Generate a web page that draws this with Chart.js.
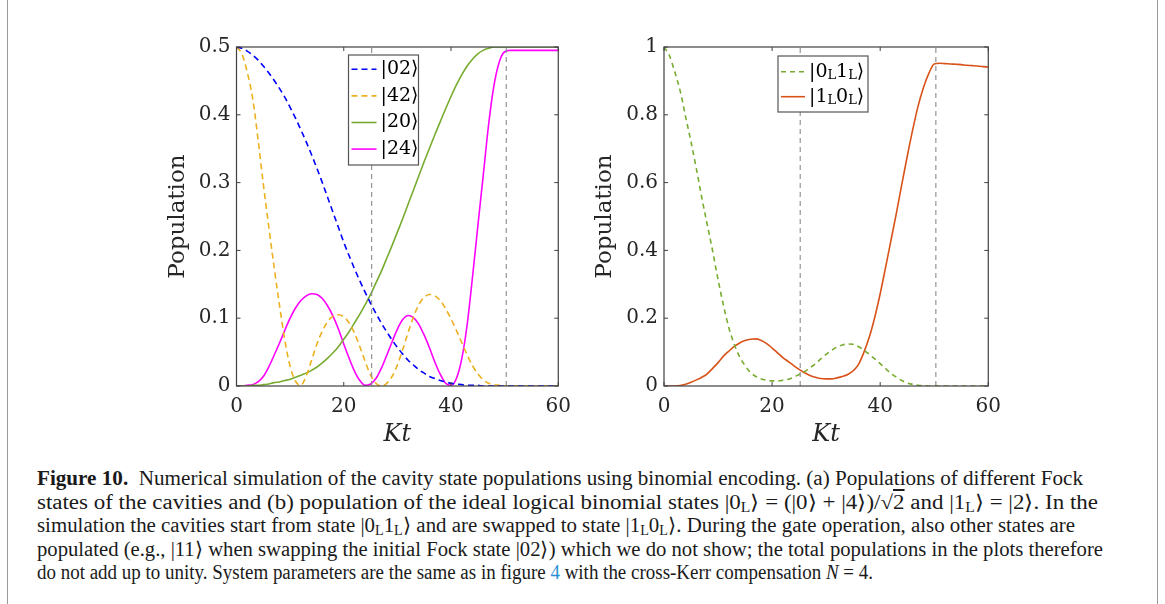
<!DOCTYPE html>
<html>
<head>
<meta charset="utf-8">
<script src="https://cdn.jsdelivr.net/npm/chart.js@4.4.0/dist/chart.umd.min.js"></script>
<style>
  html, body { margin: 0; padding: 0; background: #fff; }
  body { width: 1165px; height: 604px; position: relative; overflow: hidden; }
  .box { position: absolute; left: 7px; top: 0; width: 1151px; height: 604px; border-left: 1px solid #9a9a9a; border-right: 1px solid #9a9a9a; box-sizing: border-box; }
  canvas { position: absolute; top: 0; }
  #caption { position: absolute; left: 37px; top: 467px; font-family: "Liberation Serif", serif; font-size: 20px; color: #1a1a1a; line-height: 23.5px; }
  #caption div { white-space: nowrap; width: max-content; transform-origin: 0 0; }
  #caption sub { font-size: 0.68em; vertical-align: -0.25em; line-height: 0; }
  .ov { text-decoration: overline; }
  .lnk { color: #2b8fd6; }
</style>
</head>
<body>
<div class="box"></div>
<canvas id="chartA" width="430" height="460" style="left:150px"></canvas>
<canvas id="chartB" width="430" height="460" style="left:580px"></canvas>
<div id="caption">
  <div data-w="1046"><b>Figure 10.</b>&nbsp; Numerical simulation of the cavity state populations using binomial encoding. (a) Populations of different Fock</div>
  <div data-w="1061">states of the cavities and (b) population of the ideal logical binomial states |0<sub>L</sub>⟩ = (|0⟩ + |4⟩)/√<span class="ov">2</span> and |1<sub>L</sub>⟩ = |2⟩. In the</div>
  <div data-w="1038">simulation the cavities start from state |0<sub>L</sub>1<sub>L</sub>⟩ and are swapped to state |1<sub>L</sub>0<sub>L</sub>⟩. During the gate operation, also other states are</div>
  <div data-w="1066">populated (e.g., |11⟩ when swapping the initial Fock state |02⟩) which we do not show; the total populations in the plots therefore</div>
  <div data-w="836">do not add up to unity. System parameters are the same as in figure <span class="lnk">4</span> with the cross-Kerr compensation <i>N</i> = 4.</div>
</div>
<script>
// time axis Kt, one sample per unit
const kt = [0,1,2,3,4,5,6,7,8,9,10,11,12,13,14,15,16,17,18,19,20,21,22,23,24,25,26,27,28,29,30,
            31,32,33,34,35,36,37,38,39,40,41,42,43,44,45,46,47,48,49,50,51,52,53,54,55,56,57,58,59,60];

// (a) Fock state populations
const pop02 = [0.5,0.498,0.494,0.488,0.481,0.472,0.462,0.451,0.439,0.426,0.411,0.395,0.378,0.36,0.341,0.321,
               0.3,0.278,0.256,0.234,0.212,0.192,0.173,0.155,0.138,0.122,0.107,0.093,0.08,0.068,0.057,
               0.047,0.038,0.031,0.024,0.019,0.014,0.011,0.008,0.006,0.004,0.003,0.002,0.001,0.001,0.001,
               0,0,0,0,0,0,0,0,0,0,0,0,0,0,0];
const pop42 = [0.5,0.49,0.463,0.425,0.365,0.298,0.236,0.176,0.12,0.068,0.029,0.007,0.001,0.015,0.038,0.062,
               0.081,0.095,0.103,0.105,0.102,0.093,0.078,0.058,0.036,0.016,0.004,0,0.004,0.014,0.031,
               0.054,0.079,0.102,0.12,0.131,0.135,0.133,0.126,0.114,0.099,0.082,0.064,0.046,0.03,0.018,
               0.009,0.004,0.002,0.001,0,0,0,0,0,0,0,0,0,0,0];
const pop20 = [0,0,0,0.001,0.001,0.002,0.003,0.005,0.006,0.008,0.01,0.013,0.016,0.019,0.023,0.028,
               0.034,0.041,0.049,0.058,0.069,0.08,0.093,0.106,0.12,0.135,0.152,0.169,0.188,0.207,0.227,
               0.247,0.268,0.289,0.31,0.331,0.351,0.371,0.39,0.409,0.427,0.444,0.459,0.472,0.482,0.49,
               0.495,0.498,0.5,0.5,0.5,0.5,0.5,0.5,0.5,0.5,0.5,0.5,0.5,0.5,0.5];
const pop24 = [0,0,0.001,0.002,0.006,0.014,0.028,0.045,0.063,0.082,0.1,0.115,0.126,0.133,0.136,0.135,
               0.129,0.118,0.103,0.084,0.062,0.041,0.022,0.008,0.001,0.003,0.011,0.026,0.045,0.065,0.084,
               0.098,0.104,0.101,0.091,0.075,0.056,0.035,0.017,0.004,0.001,0.011,0.04,0.09,0.16,0.236,
               0.31,0.385,0.443,0.478,0.493,0.495,0.495,0.495,0.495,0.495,0.495,0.495,0.495,0.495,0.495];

// (b) logical binomial state populations
const pop0L1L = [1,0.975,0.926,0.87,0.794,0.72,0.64,0.555,0.476,0.398,0.314,0.238,0.172,0.123,0.086,0.06,
                 0.04,0.028,0.021,0.017,0.015,0.015,0.017,0.02,0.026,0.034,0.042,0.054,0.065,0.08,0.093,
                 0.105,0.115,0.121,0.124,0.123,0.116,0.106,0.093,0.08,0.066,0.051,0.037,0.026,0.016,0.009,
                 0.005,0.002,0.001,0,0,0,0,0,0,0,0,0,0,0,0];
const pop1L0L = [0,0,0,0.001,0.005,0.011,0.018,0.026,0.036,0.052,0.069,0.088,0.103,0.117,0.127,0.134,
                 0.138,0.139,0.134,0.125,0.112,0.098,0.084,0.072,0.06,0.049,0.039,0.031,0.026,0.022,0.021,
                 0.021,0.024,0.028,0.034,0.045,0.064,0.1,0.145,0.203,0.272,0.35,0.43,0.51,0.595,0.677,
                 0.755,0.825,0.88,0.922,0.95,0.952,0.951,0.95,0.949,0.948,0.946,0.945,0.944,0.942,0.941];

// gate half / end markers
const gateMarks = [25.2, 50.3];
const xTickLabels = ['0', '20', '40', '60'];
const yTicksA = ['0', '0.1', '0.2', '0.3', '0.4', '0.5'];
const yTicksB = ['0', '0.2', '0.4', '0.6', '0.8', '1'];

const SERIF = '"DejaVu Serif", serif';
const INK = '#262626';

function curve(text, values, color, dash) {
  return {
    label: text,
    data: kt.map((x, i) => ({ x: x, y: values[i] })),
    borderColor: color,
    borderWidth: 1.6,
    borderDash: dash,
    pointRadius: 0,
    cubicInterpolationMode: 'monotone',
    fill: false,
    inLegend: true
  };
}

function gateLine(x, top) {
  return {
    label: '',
    data: [{ x: x, y: 0 }, { x: x, y: top }],
    borderColor: '#8a8a8a',
    borderWidth: 1.1,
    borderDash: [5, 4],
    pointRadius: 0,
    fill: false,
    inLegend: false
  };
}

// label text: "_X" means X is a subscript
function drawLabel(ctx, text, x, y, size) {
  let cx = x;
  for (let i = 0; i < text.length; i++) {
    let ch = text[i], sub = false;
    if (ch === '_') { ch = text[++i]; sub = true; }
    ctx.font = (sub ? Math.round(size * 0.68) : size) + 'px ' + SERIF;
    ctx.fillText(ch, cx, sub ? y + size * 0.22 : y);
    cx += ctx.measureText(ch).width;
  }
}

// MATLAB-ish box, inward ticks and a legend inside the axes
function boxPlugin(leg) {
  return {
    id: 'matBox',
    afterDraw(chart) {
      const ctx = chart.ctx, a = chart.chartArea;
      const xs = chart.scales.x, ys = chart.scales.y;
      ctx.save();
      ctx.strokeStyle = '#404040';
      ctx.lineWidth = 1.2;
      ctx.strokeRect(a.left, a.top, a.right - a.left, a.bottom - a.top);
      ctx.lineWidth = 1;
      ctx.beginPath();
      xs.ticks.forEach(t => {
        const px = xs.getPixelForValue(t.value);
        ctx.moveTo(px, a.bottom); ctx.lineTo(px, a.bottom - 4);
        ctx.moveTo(px, a.top); ctx.lineTo(px, a.top + 4);
      });
      ys.ticks.forEach(t => {
        const py = ys.getPixelForValue(t.value);
        ctx.moveTo(a.left, py); ctx.lineTo(a.left + 4, py);
        ctx.moveTo(a.right, py); ctx.lineTo(a.right - 4, py);
      });
      ctx.stroke();

      // legend
      const lx = a.left + leg.dx, ly = a.top + leg.dy;
      ctx.fillStyle = '#fff';
      ctx.fillRect(lx, ly, leg.w, leg.h);
      ctx.strokeStyle = '#555';
      ctx.lineWidth = 1.2;
      ctx.strokeRect(lx, ly, leg.w, leg.h);
      const items = chart.data.datasets.filter(d => d.inLegend);
      ctx.textBaseline = 'middle';
      ctx.textAlign = 'left';
      items.forEach((d, i) => {
        const cy = ly + leg.first + i * leg.pitch;
        ctx.strokeStyle = d.borderColor;
        ctx.lineWidth = 1.6;
        ctx.setLineDash(d.borderDash || []);
        ctx.beginPath();
        ctx.moveTo(lx + 3, cy); ctx.lineTo(lx + 3 + leg.sample, cy);
        ctx.stroke();
        ctx.setLineDash([]);
        ctx.fillStyle = '#000';
        drawLabel(ctx, d.label, lx + leg.sample + 7, cy, 19);
      });
      ctx.restore();
    }
  };
}

function makeChart(id, datasets, yMax, yStep, yLabels, g, leg) {
  return new Chart(document.getElementById(id), {
    type: 'line',
    data: { datasets: datasets },
    options: {
      responsive: false,
      animation: false,
      devicePixelRatio: 1,
      layout: { padding: { top: 47, right: g.padRight, bottom: 4, left: 0 } },
      plugins: { legend: { display: false }, tooltip: { enabled: false } },
      scales: {
        x: {
          type: 'linear', min: 0, max: 60,
          afterFit: s => { s.height = 70; },
          grid: { display: false, drawTicks: false },
          border: { display: false },
          ticks: { stepSize: 20, padding: 9, color: INK, font: { family: SERIF, size: 20 },
                   callback: (v, i) => xTickLabels[i] },
          title: { display: true, text: 'Kt', color: INK, padding: { top: 0, bottom: 6.6 },
                   font: { family: SERIF, size: 24, style: 'italic' } }
        },
        y: {
          min: 0, max: yMax,
          afterFit: s => { s.width = g.yWidth; },
          grid: { display: false, drawTicks: false },
          border: { display: false },
          ticks: { stepSize: yStep, padding: 6, color: INK, font: { family: SERIF, size: 20 },
                   callback: (v, i) => yLabels[i] },
          title: { display: true, text: 'Population', color: INK, padding: { top: g.titlePad, bottom: 0 },
                   font: { family: SERIF, size: 23 } }
        }
      }
    },
    plugins: [boxPlugin(leg)]
  });
}

makeChart('chartA', [
  gateLine(gateMarks[0], 0.5), gateLine(gateMarks[1], 0.5),
  curve('|02⟩', pop02, '#0000ff', [6, 4]),
  curve('|42⟩', pop42, '#edb120', [6, 4]),
  curve('|20⟩', pop20, '#77ac30', []),
  curve('|24⟩', pop24, '#ff00ff', [])
], 0.5, 0.1, yTicksA,
  { yWidth: 86.5, titlePad: 14, padRight: 18.5 },
  { dx: 112, dy: 8, w: 70, h: 110, first: 14.3, pitch: 26.6, sample: 25 });

makeChart('chartB', [
  gateLine(gateMarks[0], 1), gateLine(gateMarks[1], 1),
  curve('|0_L1_L⟩', pop0L1L, '#77ac30', [5, 4]),
  curve('|1_L0_L⟩', pop1L0L, '#d95319', [])
], 1, 0.2, yTicksB,
  { yWidth: 84, titlePad: 11, padRight: 21 },
  { dx: 114, dy: 9, w: 90, h: 56, first: 15.7, pitch: 25, sample: 24 });

// squeeze each caption line to the measured width of the typeset original
document.querySelectorAll('#caption div').forEach(el => {
  const natural = el.getBoundingClientRect().width;
  const target = parseFloat(el.dataset.w);
  el.style.transform = 'scaleX(' + (target / natural) + ')';
});
</script>
</body>
</html>
